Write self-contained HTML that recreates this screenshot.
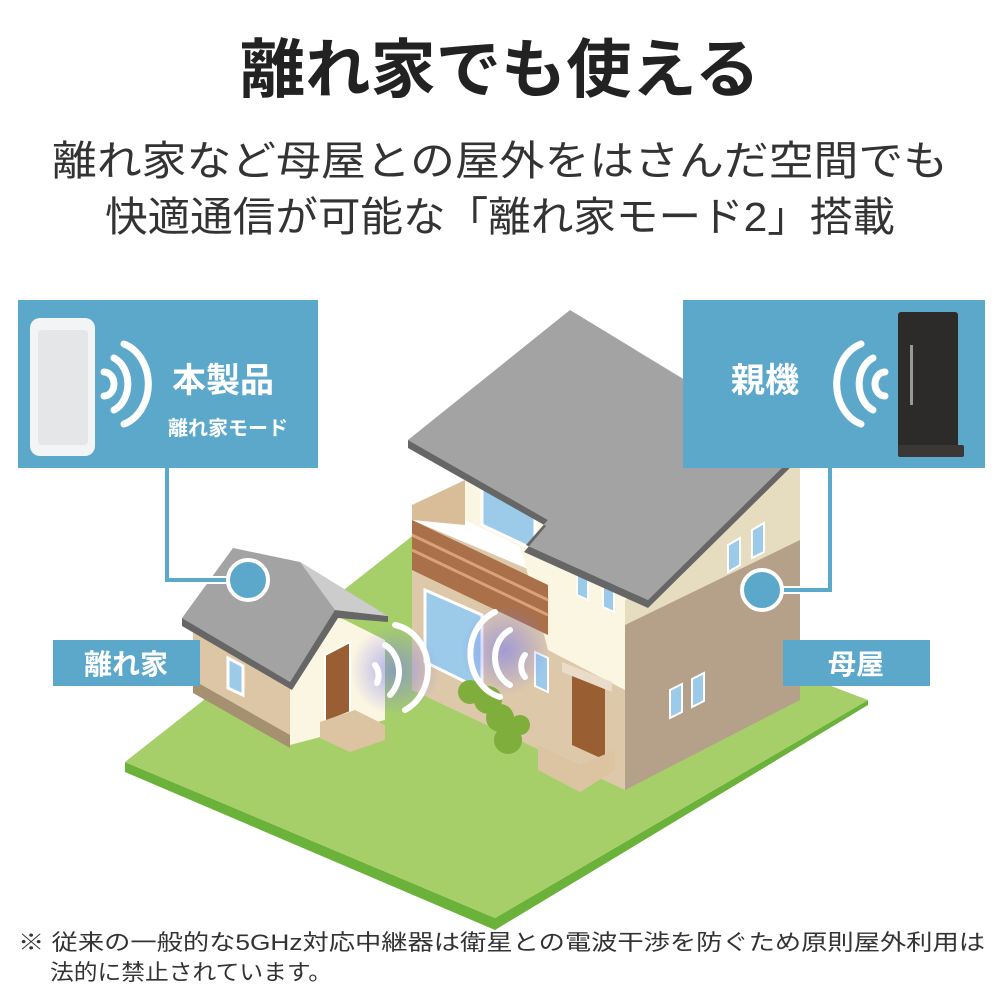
<!DOCTYPE html>
<html><head><meta charset="utf-8"><style>
body{margin:0;width:1000px;height:1000px;background:#fff;overflow:hidden;font-family:"Liberation Sans","Noto Sans CJK JP",sans-serif;}
svg{position:absolute;left:0;top:0}
</style></head><body>
<svg width="1000" height="1000" viewBox="0 0 1000 1000">
<defs>
<radialGradient id="glow" cx="50%" cy="50%" r="50%"><stop offset="0" stop-color="#7c7cf0" stop-opacity="0.6"/><stop offset="1" stop-color="#7c7cf0" stop-opacity="0"/></radialGradient>
</defs>
<text x="500" y="92" text-anchor="middle" font-size="64" font-weight="bold" fill="#222" textLength="520" lengthAdjust="spacingAndGlyphs">離れ家でも使える</text>
<text x="500" y="175" text-anchor="middle" font-size="41" fill="#333" textLength="896" lengthAdjust="spacingAndGlyphs">離れ家など母屋との屋外をはさんだ空間でも</text>
<text x="500" y="231" text-anchor="middle" font-size="41" fill="#333" textLength="790" lengthAdjust="spacingAndGlyphs">快適通信が可能な「離れ家モード2」搭載</text>

<!-- lawn -->
<polygon points="125,772 495,930 868,705 868,700 495,918 125,762" fill="#6bb23a"/>
<polygon points="125,762 420,530 868,700 495,918" fill="#a6cf6a"/>

<!-- main house right face -->
<polygon points="625,615 800,520 800,700 625,790" fill="#b5a089"/>
<polygon points="625,600 800,455 800,540 625,625" fill="#e6dcc0"/>
<polygon points="412,520 625,610 625,790 412,690" fill="#ddc8aa"/>
<polygon points="520,545 625,595 625,690 548,650" fill="#fbf6e2"/>
<polygon points="465,470 548,420 548,560 465,520" fill="#fbf6e2"/>
<polygon points="412,520 548,585 548,635 412,570" fill="#a9704a"/>
<line x1="412" y1="535" x2="548" y2="600" stroke="#d9a27a" stroke-width="3"/>
<line x1="412" y1="550" x2="548" y2="615" stroke="#d9a27a" stroke-width="3"/>
<polygon points="412,505 465,480 465,525 412,520" fill="#d8bd98"/>
<polygon points="482,488 535,512 535,550 482,525" fill="#9ccbea" stroke="#fff" stroke-width="3"/>
<polygon points="425,590 482,615 482,690 425,662" fill="#9ccbea" stroke="#fff" stroke-width="3"/>
<polygon points="577,565 588,570 588,600 577,595" fill="#9ccbea" stroke="#fff" stroke-width="2"/>
<polygon points="603,578 614,583 614,612 603,607" fill="#9ccbea" stroke="#fff" stroke-width="2"/>
<polygon points="535,652 548,658 548,692 535,686" fill="#9ccbea" stroke="#fff" stroke-width="2"/>
<polygon points="728,545 740,538 740,565 728,572" fill="#9ccbea" stroke="#fff" stroke-width="2"/>
<polygon points="752,530 764,523 764,552 752,558" fill="#9ccbea" stroke="#fff" stroke-width="2"/>
<polygon points="670,690 682,684 682,712 670,718" fill="#9ccbea" stroke="#fff" stroke-width="2"/>
<polygon points="692,679 704,673 704,701 692,707" fill="#9ccbea" stroke="#fff" stroke-width="2"/>
<polygon points="572,670 605,686 605,760 572,745" fill="#9a5e33"/>
<polygon points="562,662 612,682 612,692 562,672" fill="#e9dcc8"/>
<polygon points="538,745 580,765 615,750 615,770 580,792 538,770" fill="#dcc4a2"/>
<polygon points="570,310 800,450 648,600 526,545 548,520 408,440" fill="#a3a3a3"/>
<polygon points="408,440 548,520 526,545 648,600 800,450 800,458 648,608 524,552 546,526 408,448" fill="#666"/>

<!-- small house -->
<polygon points="193,625 290,680 290,745 193,690" fill="#dcc6a6"/>
<polygon points="193,680 290,735 290,748 193,693" fill="#a5906f"/>
<polygon points="290,680 335,615 385,640 385,720 290,745" fill="#fbf6e2"/>
<polygon points="325,655 350,642 350,712 325,722" fill="#9a5e33" stroke="#fff" stroke-width="2"/>
<polygon points="228,658 243,666 243,695 228,688" fill="#9ccbea" stroke="#fff" stroke-width="3"/>
<polygon points="320,722 355,710 385,725 385,740 350,752 320,738" fill="#dcc4a2"/>
<polygon points="233,548 300,562 388,616 335,610 290,682 182,618" fill="#a3a3a3"/>
<polygon points="182,618 290,682 335,610 388,616 388,622 338,618 292,690 182,626" fill="#666"/>
<polygon points="300,562 388,616 335,610" fill="#ccc"/>

<g fill="#7fae3c"><circle cx="470" cy="692" r="12"/><circle cx="488" cy="700" r="14"/><circle cx="500" cy="718" r="14"/><circle cx="508" cy="740" r="14"/><circle cx="520" cy="725" r="10"/></g>

<circle cx="395" cy="670" r="45" fill="url(#glow)"/>
<circle cx="505" cy="650" r="45" fill="url(#glow)"/>
<g fill="none" stroke="#fff" stroke-width="6" stroke-linecap="round">
<path d="M375,665 a10,14 0 0 1 2,18"/>
<path d="M385,645 a25,30 0 0 1 5,50"/>
<path d="M395,625 a40,45 0 0 1 10,85"/>
<path d="M525,655 a10,14 0 0 0 0,22"/>
<path d="M510,630 a25,30 0 0 0 0,55"/>
<path d="M495,612 a40,45 0 0 0 5,85"/>
</g>

<path d="M167,460 V580 H248" fill="none" stroke="#fff" stroke-width="8"/>
<path d="M167,460 V580 H248" fill="none" stroke="#5ba8cb" stroke-width="4"/>
<circle cx="248" cy="580" r="20" fill="#5ba8cb" stroke="#fff" stroke-width="4"/>
<path d="M830,460 V590 H760" fill="none" stroke="#fff" stroke-width="8"/>
<path d="M830,460 V590 H760" fill="none" stroke="#5ba8cb" stroke-width="4"/>
<circle cx="762" cy="590" r="20" fill="#5ba8cb" stroke="#fff" stroke-width="4"/>

<rect x="18" y="300" width="300" height="168" fill="#5ba8cb"/>
<rect x="30" y="318" width="65" height="138" rx="10" fill="#f3f4f5"/>
<rect x="38" y="330" width="50" height="115" rx="4" fill="#e4e6e8"/>
<g fill="none" stroke="#fff" stroke-width="7" stroke-linecap="round">
<path d="M104,372 a10,12 0 0 1 0,24"/>
<path d="M114,358 a22,28 0 0 1 0,52"/>
<path d="M124,344 a35,42 0 0 1 0,80"/>
</g>
<text x="223" y="392" text-anchor="middle" font-size="34" font-weight="bold" fill="#fff">本製品</text>
<text x="228" y="435" text-anchor="middle" font-size="20" font-weight="bold" fill="#fff">離れ家モード</text>

<rect x="683" y="300" width="302" height="168" fill="#5ba8cb"/>
<text x="765" y="392" text-anchor="middle" font-size="34" font-weight="bold" fill="#fff">親機</text>
<g fill="none" stroke="#fff" stroke-width="7" stroke-linecap="round">
<path d="M885,372 a10,12 0 0 0 0,24"/>
<path d="M873,358 a22,28 0 0 0 0,52"/>
<path d="M861,344 a35,42 0 0 0 0,80"/>
</g>
<rect x="898" y="312" width="60" height="142" rx="3" fill="#2d2b2a"/>
<rect x="898" y="445" width="66" height="12" rx="2" fill="#3a3736"/>
<rect x="910" y="345" width="3" height="60" fill="#999"/>

<rect x="53" y="640" width="147" height="46" fill="#5ba8cb"/>
<text x="126" y="674" text-anchor="middle" font-size="28" font-weight="bold" fill="#fff">離れ家</text>
<rect x="783" y="640" width="147" height="46" fill="#5ba8cb"/>
<text x="856" y="674" text-anchor="middle" font-size="28" font-weight="bold" fill="#fff">母屋</text>

<text x="18" y="950" font-size="22" fill="#333" textLength="967" lengthAdjust="spacingAndGlyphs">※ 従来の一般的な5GHz対応中継器は衛星との電波干渉を防ぐため原則屋外利用は</text>
<text x="50" y="980" font-size="22" fill="#333" textLength="282" lengthAdjust="spacingAndGlyphs">法的に禁止されています。</text>
</svg>
</body></html>
